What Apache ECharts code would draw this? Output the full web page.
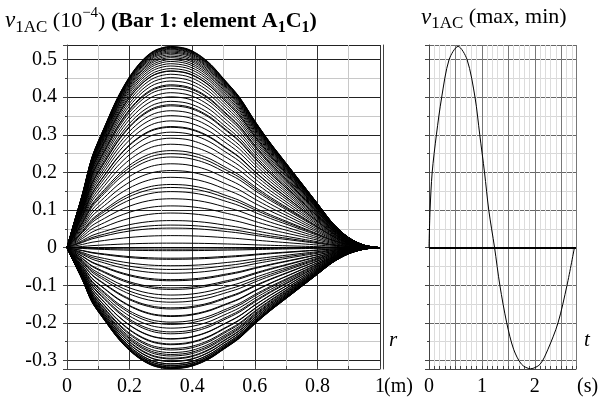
<!DOCTYPE html>
<html>
<head>
<meta charset="utf-8">
<script src="https://cdn.jsdelivr.net/npm/echarts@6/dist/echarts.min.js"></script>
<style>
  html, body { margin: 0; padding: 0; background: #fff; }
  #chart { width: 601px; height: 401px; }
</style>
</head>
<body>
<div id="chart"></div>
<script>
// deflection shape along the element (ratio to the peak)
var rPos = [0, 0.02, 0.05, 0.08, 0.12, 0.16, 0.2, 0.24, 0.28, 0.33, 0.38, 0.42, 0.46, 0.5, 0.55, 0.6, 0.65, 0.7, 0.75, 0.8, 0.85, 0.9, 0.95, 1.0]
var shapeRatio = [0, 0.11, 0.27, 0.45, 0.6, 0.74, 0.85, 0.93, 0.98, 1.0, 0.99, 0.96, 0.91, 0.84, 0.75, 0.63, 0.52, 0.42, 0.32, 0.22, 0.12, 0.05, 0.012, 0]

// peak value (at r ~ 0.33) of every drawn curve, in 10^-4
var peakValues = [
  0.06, 0.16, 0.25, 0.32, 0.38, 0.43, 0.47,
  0.535, 0.534, 0.533, 0.532, 0.530, 0.528, 0.526, 0.523, 0.520, 0.517, 0.513, 0.509, 0.505, 0.500, 0.495,
  0.489, 0.483, 0.476, 0.469, 0.461, 0.452, 0.443, 0.433, 0.423, 0.412, 0.401,
  0.389, 0.377, 0.364, 0.351, 0.337, 0.322, 0.307,
  0.291, 0.275, 0.258, 0.241, 0.223, 0.205,
  0.187, 0.168, 0.149, 0.130, 0.111,
  0.092, 0.072, 0.052, 0.032, 0.012, 0.0,
  -0.008, -0.028, -0.048, -0.068, -0.088, -0.107, -0.126, -0.145, -0.163, -0.181, -0.198,
  -0.214, -0.229, -0.243, -0.256, -0.268, -0.279, -0.288, -0.296, -0.303, -0.309, -0.313,
  -0.317, -0.319, -0.321, -0.322,
  -0.321, -0.318, -0.314, -0.309, -0.302, -0.294, -0.284, -0.272, -0.258, -0.242, -0.224,
  -0.204, -0.183, -0.16, -0.136, -0.111, -0.085, -0.058, -0.031, -0.004
]

// time history of the peak value
var timeSec = [0, 0.02, 0.06, 0.14, 0.24, 0.38, 0.55, 0.72, 0.87, 0.96, 1.05, 1.13, 1.24, 1.34, 1.47, 1.6, 1.75, 1.92, 2.1, 2.25, 2.44, 2.61, 2.75]
var vPeak = [0, 0.1, 0.2, 0.3, 0.4, 0.5, 0.535, 0.5, 0.4, 0.3, 0.2, 0.1, 0, -0.1, -0.2, -0.27, -0.31, -0.322, -0.31, -0.27, -0.2, -0.1, 0]

var yLabels = ['-0.3', '-0.2', '-0.1', '0', '0.1', '0.2', '0.3', '0.4', '0.5']
var rLabels = ['0', '0.2', '0.4', '0.6', '0.8', '1']
var tLabels = ['0', '1', '2']

var serif = 'Liberation Serif'
var yMin = -0.3226
var yMax = 0.5388

var chart = echarts.init(document.getElementById('chart'))

var series = []
for (var i = 0; i < peakValues.length; i++) {
  var pts = []
  for (var j = 0; j < rPos.length; j++) {
    pts.push([rPos[j], peakValues[i] * shapeRatio[j]])
  }
  series.push({
    type: 'line',
    xAxisIndex: 0,
    yAxisIndex: 0,
    data: pts,
    smooth: 0.3,
    symbol: 'none',
    silent: true,
    lineStyle: { color: '#000', width: 1 }
  })
}

var histPts = []
for (var k = 0; k < timeSec.length; k++) histPts.push([timeSec[k], vPeak[k]])
series.push({
  type: 'line',
  xAxisIndex: 1,
  yAxisIndex: 2,
  data: histPts,
  smooth: 0.3,
  symbol: 'none',
  silent: true,
  lineStyle: { color: '#000', width: 1 },
  markLine: {
    silent: true,
    symbol: 'none',
    label: { show: false },
    lineStyle: { color: '#000', width: 2, type: 'solid' },
    data: [{ yAxis: 0 }]
  }
})

function yAxisOf(gridIndex, labels, offset, onlyLine) {
  return {
    type: 'value',
    gridIndex: gridIndex,
    min: yMin,
    max: yMax,
    splitNumber: 8,
    offset: offset || 0,
    axisLine: { show: true, lineStyle: { color: '#444', width: 1 } },
    axisTick: { show: !onlyLine, length: 4, lineStyle: { color: '#444' } },
    minorTick: { show: !onlyLine, splitNumber: 2, length: 2, lineStyle: { color: '#444' } },
    splitLine: { show: !onlyLine, lineStyle: { color: gridIndex === 0 ? '#222' : '#666', width: 1 } },
    minorSplitLine: { show: !onlyLine, lineStyle: { color: gridIndex === 0 ? '#c8c8c8' : '#d8d8d8', width: 1 } },
    axisLabel: {
      show: labels,
      showMinLabel: false,
      showMaxLabel: false,
      fontFamily: serif,
      fontSize: 20,
      color: '#000',
      margin: 10,
      formatter: function (v) {
        var s = String(Math.round(v * 10) / 10)
        return yLabels.indexOf(s) >= 0 ? s : ''
      }
    }
  }
}

var titleRich = {
  v: { fontFamily: serif, fontStyle: 'italic', fontSize: 23, lineHeight: 30, verticalAlign: 'middle', fill: '#000' },
  n: { fontFamily: serif, fontSize: 22, lineHeight: 30, verticalAlign: 'middle', fill: '#000' },
  b: { fontFamily: serif, fontWeight: 'bold', fontSize: 22, lineHeight: 30, verticalAlign: 'middle', fill: '#000' },
  sub: { fontFamily: serif, fontSize: 17, lineHeight: 30, verticalAlign: 'bottom', fill: '#000' },
  bsub: { fontFamily: serif, fontWeight: 'bold', fontSize: 16, lineHeight: 30, verticalAlign: 'bottom', fill: '#000' },
  sup: { fontFamily: serif, fontSize: 15, lineHeight: 30, verticalAlign: 'top', fill: '#000' }
}

chart.setOption({
  animation: false,
  backgroundColor: '#fff',
  grid: [
    { left: 67, right: 221, top: 45, bottom: 32 },
    { left: 429, right: 25, top: 45, bottom: 32 }
  ],
  xAxis: [
    {
      type: 'value', gridIndex: 0, min: 0, max: 1, interval: 0.2,
      axisLine: { show: true, onZero: false, lineStyle: { color: '#444' } },
      axisTick: { show: true, inside: true, length: 3, lineStyle: { color: '#444' } },
      minorTick: { show: true, splitNumber: 2, length: 3, lineStyle: { color: '#444' } },
      splitLine: { show: true, lineStyle: { color: '#333' } },
      minorSplitLine: { show: true, lineStyle: { color: '#c8c8c8' } },
      axisLabel: {
        fontFamily: serif, fontSize: 20, color: '#000', margin: 8,
        formatter: function (v) {
          var s = String(Math.round(v * 10) / 10)
          return rLabels.indexOf(s) >= 0 ? s : ''
        }
      }
    },
    {
      type: 'value', gridIndex: 1, min: 0, max: 2.78, interval: 0.5,
      axisLine: { show: true, onZero: false, lineStyle: { color: '#444' } },
      axisTick: { show: true, inside: true, length: 3, lineStyle: { color: '#444' } },
      minorTick: { show: true, splitNumber: 5, length: 3, lineStyle: { color: '#444' } },
      splitLine: { show: true, lineStyle: { color: '#777' } },
      minorSplitLine: { show: true, lineStyle: { color: '#dcdcdc' } },
      axisLabel: {
        fontFamily: serif, fontSize: 20, color: '#000', margin: 8,
        showMaxLabel: false,
        formatter: function (v) {
          var s = String(Math.round(v * 10) / 10)
          return tLabels.indexOf(s) >= 0 ? s : ''
        }
      }
    }
  ],
  yAxis: [
    yAxisOf(0, true, 0, false),
    yAxisOf(0, false, 3, true),
    yAxisOf(1, false, 0, false)
  ],
  graphic: [
    {
      type: 'text', left: 5, top: 6,
      style: {
        text: '{v|v}{sub|1AC}{n| (10}{sup|−4}{n|) }{b|(Bar 1: element A}{bsub|1}{b|C}{bsub|1}{b|)}',
        rich: titleRich
      }
    },
    {
      type: 'text', left: 421, top: 6,
      style: {
        text: '{v|v}{sub|1AC}{n| (max, min)}',
        rich: titleRich
      }
    },
    { type: 'text', left: 389, top: 330, style: { text: 'r', fontFamily: serif, fontStyle: 'italic', fontSize: 21, fill: '#000' } },
    { type: 'text', left: 384, top: 377, style: { text: '(m)', fontFamily: serif, fontSize: 20, fill: '#000' } },
    { type: 'text', left: 584, top: 330, style: { text: 't', fontFamily: serif, fontStyle: 'italic', fontSize: 21, fill: '#000' } },
    { type: 'text', left: 577, top: 377, style: { text: '(s)', fontFamily: serif, fontSize: 20, fill: '#000' } }
  ],
  series: series
})
</script>
</body>
</html>
